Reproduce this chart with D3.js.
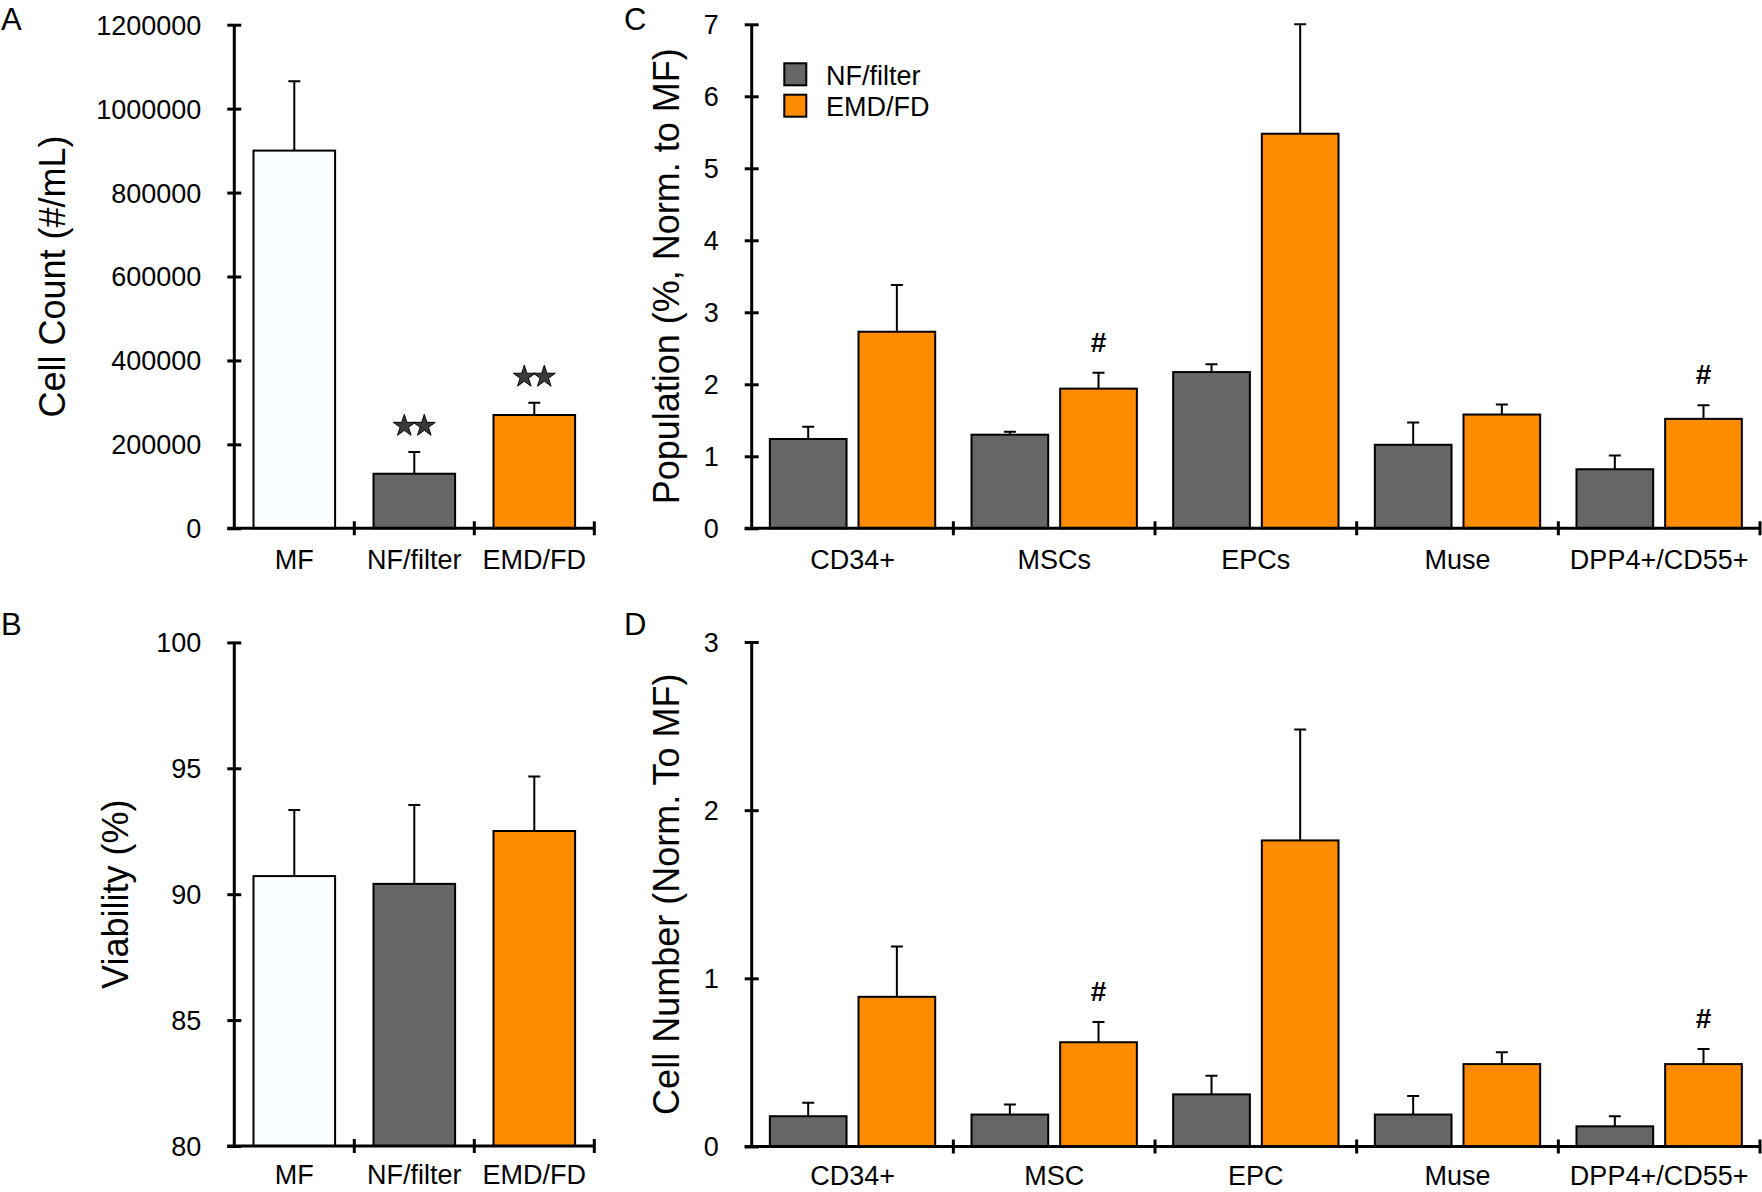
<!DOCTYPE html>
<html><head><meta charset="utf-8">
<script src="https://cdn.jsdelivr.net/npm/d3@7"></script>
<style>
body{margin:0;background:#fff;}
svg{display:block;}
</style>
</head><body>
<svg id="chart" width="1762" height="1192"></svg>
<script>
// ---------- DATA ----------
const groupCats = ["MF", "NF/filter", "EMD/FD"];
const cellCount = [900000, 130000, 270000];
const cellCountErr = [165000, 52000, 29000];
const cellCountTicks = [0, 200000, 400000, 600000, 800000, 1000000, 1200000];
const cellCountStars = [0, 2, 2];

const viability = [90.72, 90.41, 92.51];
const viabilityErr = [2.62, 3.13, 2.16];
const viabilityTicks = [80, 85, 90, 95, 100];

const seriesNames = ["NF/filter", "EMD/FD"];

const popCats = ["CD34+", "MSCs", "EPCs", "Muse", "DPP4+/CD55+"];
const popNF = [1.24, 1.30, 2.17, 1.16, 0.82];
const popNFErr = [0.17, 0.04, 0.11, 0.31, 0.19];
const popEMD = [2.73, 1.94, 5.48, 1.58, 1.52];
const popEMDErr = [0.65, 0.22, 1.52, 0.14, 0.19];
const popMarks = ["", "#", "", "", "#"];
const popTicks = [0, 1, 2, 3, 4, 5, 6, 7];

const numCats = ["CD34+", "MSC", "EPC", "Muse", "DPP4+/CD55+"];
const numNF = [0.18, 0.19, 0.31, 0.19, 0.12];
const numNFErr = [0.08, 0.06, 0.11, 0.11, 0.06];
const numEMD = [0.89, 0.62, 1.82, 0.49, 0.49];
const numEMDErr = [0.30, 0.12, 0.66, 0.07, 0.09];
const numMarks = ["", "#", "", "", "#"];
const numTicks = [0, 1, 2, 3];

// ---------- STYLE ----------
const FONT = '"Liberation Sans", Arial, Helvetica, sans-serif';
const groupColors = ["#fafdff", "#666666", "#ff8c00"];
const seriesColors = ["#666666", "#ff8c00"];

const svg = d3.select("#chart");

function yAxis(x0, yTop, yBot, domain, ticks) {
  const y = d3.scaleLinear().domain(domain).range([yBot, yTop]);
  const g = svg.append("g").attr("transform", `translate(${x0},0)`)
    .call(d3.axisLeft(y).tickValues(ticks).tickSize(7).tickPadding(26).tickFormat(d3.format("d")));
  g.attr("font-size", 27).attr("font-family", FONT);
  g.select(".domain").attr("d", `M0,${yTop}V${yBot}`).attr("stroke", "#000").attr("stroke-width", 3);
  g.selectAll(".tick line").attr("x1", -7).attr("x2", 7).attr("stroke", "#000").attr("stroke-width", 3);
  g.selectAll(".tick text").attr("dy", "0.35em").attr("fill", "#000");
  return y;
}

function xAxis(x, x0, x1, yBot, pad) {
  const g = svg.append("g").attr("transform", `translate(0,${yBot})`)
    .call(d3.axisBottom(x).tickSize(0).tickPadding(pad));
  g.attr("font-size", 27).attr("font-family", FONT);
  g.select(".domain").attr("d", `M${x0 - 7},0H${x1}`).attr("stroke", "#000").attr("stroke-width", 3);
  g.selectAll(".tick text").attr("fill", "#000");
  const step = x.step(), po = x.paddingOuter();
  g.selectAll("line.sep").data(x.domain()).join("line").attr("class", "sep")
    .attr("x1", d => x(d) - po * step + step).attr("x2", d => x(d) - po * step + step)
    .attr("y1", -7).attr("y2", 7).attr("stroke", "#000").attr("stroke-width", 3);
}

function errBar(cx, yv, ye) {
  svg.append("path")
    .attr("d", `M${cx},${yv}V${ye}M${cx - 6},${ye}H${cx + 6}`)
    .attr("stroke", "#000").attr("stroke-width", 2).attr("fill", "none");
}

function title(txt, x, y) {
  svg.append("text").attr("transform", `translate(${x},${y}) rotate(-90)`)
    .attr("text-anchor", "middle").attr("font-family", FONT).attr("font-size", 36).text(txt);
}
function letter(txt, x, y) {
  svg.append("text").attr("x", x).attr("y", y).attr("font-family", FONT).attr("font-size", 31).text(txt);
}

// ---------- simple panels (A, B) ----------
function simplePanel(cfg) {
  const x = d3.scaleBand().domain(groupCats).range([cfg.x0, cfg.x1]).paddingInner(0.32).paddingOuter(0.16);
  const y = d3.scaleLinear().domain(cfg.domain).range([cfg.yBot, cfg.yTop]);
  groupCats.forEach((c, i) => {
    const v = cfg.vals[i], e = cfg.errs[i], cx = x(c) + x.bandwidth() / 2;
    errBar(cx, y(v), y(v + e));
    svg.append("rect").attr("x", x(c)).attr("y", y(v)).attr("width", x.bandwidth())
      .attr("height", cfg.yBot - y(v)).attr("fill", groupColors[i])
      .attr("stroke", "#000").attr("stroke-width", 2);
    if (cfg.stars && cfg.stars[i]) {
      const n = cfg.stars[i];
      for (let k = 0; k < n; k++) {
        const sx = cx + (k - (n - 1) / 2) * 20;
        svg.append("path").attr("d", d3.symbol(d3.symbolStar, 150)())
          .attr("transform", `translate(${sx},${y(v + e) - 26})`)
          .attr("fill", "#3a3a3a").attr("stroke", "#000").attr("stroke-width", 1);
      }
    }
  });
  yAxis(cfg.x0, cfg.yTop, cfg.yBot, cfg.domain, cfg.ticks);
  xAxis(x, cfg.x0, cfg.x1, cfg.yBot, cfg.pad);
}

// ---------- grouped panels (C, D) ----------
function groupedPanel(cfg) {
  const x0 = d3.scaleBand().domain(cfg.cats).range([cfg.x0, cfg.x1]).paddingInner(0.18).paddingOuter(0.09);
  const x1 = d3.scaleBand().domain(seriesNames).range([0, x0.bandwidth()]).paddingInner(0.135);
  const y = d3.scaleLinear().domain(cfg.domain).range([cfg.yBot, cfg.yTop]);
  const series = [[cfg.nf, cfg.nfErr], [cfg.emd, cfg.emdErr]];
  cfg.cats.forEach((c, i) => {
    seriesNames.forEach((s, j) => {
      const v = series[j][0][i], e = series[j][1][i];
      const bx = x0(c) + x1(s), cx = bx + x1.bandwidth() / 2;
      errBar(cx, y(v), y(v + e));
      svg.append("rect").attr("x", bx).attr("y", y(v)).attr("width", x1.bandwidth())
        .attr("height", cfg.yBot - y(v)).attr("fill", seriesColors[j])
        .attr("stroke", "#000").attr("stroke-width", 2);
      if (j === 1 && cfg.marks[i]) {
        svg.append("text").attr("x", cx).attr("y", y(v + e) - 21)
          .attr("text-anchor", "middle").attr("font-family", FONT).attr("font-weight", "bold")
          .attr("font-size", 28).text(cfg.marks[i]);
      }
    });
  });
  yAxis(cfg.x0, cfg.yTop, cfg.yBot, cfg.domain, cfg.ticks);
  xAxis(x0, cfg.x0, cfg.x1, cfg.yBot, cfg.pad);
}

simplePanel({x0: 234.3, x1: 594.3, yTop: 24.7, yBot: 528.3, domain: [0, 1200000], ticks: cellCountTicks,
  vals: cellCount, errs: cellCountErr, stars: cellCountStars, pad: 22});
simplePanel({x0: 234.3, x1: 594.3, yTop: 642.4, yBot: 1146, domain: [80, 100], ticks: viabilityTicks,
  vals: viability, errs: viabilityErr, pad: 19});
groupedPanel({x0: 751.7, x1: 1760, yTop: 24.3, yBot: 528.3, domain: [0, 7], ticks: popTicks, cats: popCats,
  nf: popNF, nfErr: popNFErr, emd: popEMD, emdErr: popEMDErr, marks: popMarks, pad: 22});
groupedPanel({x0: 751.7, x1: 1760, yTop: 642, yBot: 1146.5, domain: [0, 3], ticks: numTicks, cats: numCats,
  nf: numNF, nfErr: numNFErr, emd: numEMD, emdErr: numEMDErr, marks: numMarks, pad: 19});

// titles
title("Cell Count (#/mL)", 65.4, 276.5);
title("Viability (%)", 128.4, 894.2);
title("Population (%, Norm. to MF)", 678.5, 276.3);
title("Cell Number (Norm. To MF)", 678.5, 894.2);

// panel letters
letter("A", 1, 30);
letter("B", 1, 635);
letter("C", 624, 30);
letter("D", 624, 635);

// legend (panel C)
seriesNames.forEach((s, j) => {
  svg.append("rect").attr("x", 784.3).attr("y", 63.3 + j * 31.4).attr("width", 22).attr("height", 22)
    .attr("fill", seriesColors[j]).attr("stroke", "#000").attr("stroke-width", 2);
  svg.append("text").attr("x", 826).attr("y", 85 + j * 31).attr("font-family", FONT)
    .attr("font-size", 27).text(s);
});
</script>
</body></html>
